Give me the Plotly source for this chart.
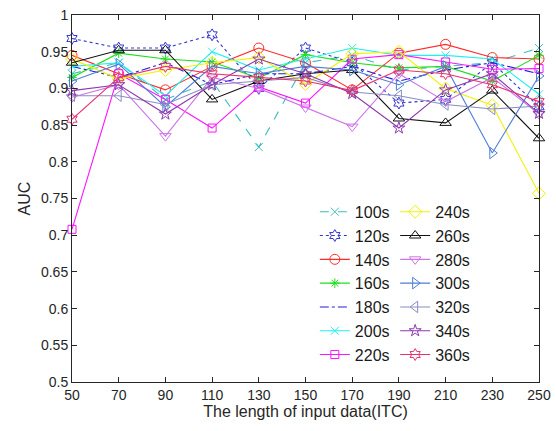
import plotly.graph_objects as go

# Length of input data (ITC) on the x axis
lengths = [50, 70, 90, 110, 130, 150, 170, 190, 210, 230, 250]

# AUC per window size
auc_100s = [0.920, 0.935, 0.885, 0.910, 0.820, 0.935, 0.945, 0.925, 0.930, 0.935, 0.955]
auc_120s = [0.968, 0.955, 0.955, 0.973, 0.900, 0.955, 0.935, 0.880, 0.885, 0.935, 0.875]
auc_140s = [0.945, 0.920, 0.898, 0.930, 0.955, 0.935, 0.898, 0.948, 0.960, 0.942, 0.940]
auc_160s = [0.915, 0.948, 0.940, 0.936, 0.914, 0.946, 0.935, 0.928, 0.930, 0.910, 0.945]
auc_180s = [0.930, 0.915, 0.935, 0.905, 0.920, 0.920, 0.930, 0.910, 0.925, 0.935, 0.920]
auc_200s = [0.930, 0.935, 0.890, 0.950, 0.925, 0.940, 0.955, 0.945, 0.945, 0.940, 0.892]
auc_220s = [0.708, 0.920, 0.885, 0.846, 0.902, 0.880, 0.940, 0.946, 0.936, 0.926, 0.927]
auc_240s = [0.940, 0.913, 0.925, 0.935, 0.942, 0.906, 0.947, 0.950, 0.900, 0.877, 0.757]
auc_260s = [0.935, 0.952, 0.952, 0.885, 0.910, 0.920, 0.925, 0.859, 0.853, 0.897, 0.832]
auc_280s = [0.888, 0.905, 0.835, 0.915, 0.900, 0.874, 0.848, 0.920, 0.882, 0.915, 0.865]
auc_300s = [0.910, 0.933, 0.875, 0.930, 0.920, 0.930, 0.925, 0.905, 0.930, 0.812, 0.917]
auc_320s = [0.890, 0.890, 0.878, 0.905, 0.910, 0.915, 0.895, 0.890, 0.878, 0.872, 0.876]
auc_340s = [0.897, 0.905, 0.865, 0.905, 0.940, 0.920, 0.893, 0.846, 0.898, 0.920, 0.866]
auc_360s = [0.858, 0.915, 0.930, 0.920, 0.915, 0.910, 0.897, 0.925, 0.920, 0.905, 0.882]

y_ticks = [0.5, 0.55, 0.6, 0.65, 0.7, 0.75, 0.8, 0.85, 0.9, 0.95, 1.0]
y_tick_text = ["0.5", "0.55", "0.6", "0.65", "0.7", "0.75", "0.8", "0.85", "0.9", "0.95", "1"]

# name, values, colour, dash, marker symbol, marker size, legend
series = [
    ("100s", auc_100s, "#3DBDBD", "dash", "x-thin-open", 8, "legend"),
    ("120s", auc_120s, "#3535D0", "dot", "hexagram-open", 9, "legend"),
    ("140s", auc_140s, "#FF2B2B", "solid", "circle-open", 10, "legend"),
    ("160s", auc_160s, "#1EE01E", "solid", "asterisk-open", 8, "legend"),
    ("180s", auc_180s, "#1F1FE0", "dashdot", None, 0, "legend"),
    ("200s", auc_200s, "#1FF0F0", "solid", "x-thin-open", 8, "legend"),
    ("220s", auc_220s, "#FF14FF", "solid", "square-open", 8, "legend"),
    ("240s", auc_240s, "#F2F200", "solid", "diamond-open", 10, "legend2"),
    ("260s", auc_260s, "#111111", "solid", "triangle-up-open", 10, "legend2"),
    ("280s", auc_280s, "#CD75E8", "solid", "triangle-down-open", 10, "legend2"),
    ("300s", auc_300s, "#4D7FD9", "solid", "triangle-right-open", 10, "legend2"),
    ("320s", auc_320s, "#8A8CC4", "solid", "triangle-left-open", 10, "legend2"),
    ("340s", auc_340s, "#8C3AAE", "solid", "star-open", 9, "legend2"),
    ("360s", auc_360s, "#E8326F", "solid", "hexagram-open", 9, "legend2"),
]

fig = go.Figure()
for name, vals, color, dash, symbol, msize, leg in series:
    if symbol is None:
        mode = "lines"
        marker = None
    else:
        mode = "lines+markers"
        marker = dict(symbol=symbol, size=msize, color=color, line=dict(width=1, color=color))
    fig.add_trace(go.Scatter(
        x=lengths, y=vals, name=name, mode=mode,
        line=dict(color=color, width=1.1, dash=dash),
        marker=marker, legend=leg, cliponaxis=False,
    ))

axis_common = dict(
    showgrid=False, zeroline=False, showline=True, linecolor="#262626", linewidth=1,
    mirror="ticks", ticks="inside", ticklen=5, tickcolor="#262626", automargin=False,
    tickfont=dict(family="Liberation Sans, Arial, sans-serif", size=14, color="#262626"),
)

legend_common = dict(
    xanchor="left", yanchor="top",
    bgcolor="rgba(0,0,0,0)", borderwidth=0,
    font=dict(size=16, color="#1a1a1a"), tracegroupgap=0,
)

fig.update_layout(
    width=556, height=431,
    margin=dict(l=72, r=17, t=15, b=49),
    paper_bgcolor="white", plot_bgcolor="white",
    font=dict(family="Liberation Sans, Arial, sans-serif", color="#262626"),
    xaxis=dict(
        range=[50, 250], tickvals=lengths, ticktext=[str(v) for v in lengths],
        title=dict(text="The length of input data(ITC)", font=dict(size=16, color="#262626"), standoff=3),
        **axis_common,
    ),
    yaxis=dict(
        range=[0.5, 1.0], tickvals=y_ticks, ticktext=y_tick_text,
        title=dict(text="AUC", font=dict(size=16, color="#262626"), standoff=6),
        **axis_common,
    ),
    legend=dict(x=0.52, y=0.51, **legend_common),
    legend2=dict(x=0.692, y=0.51, **legend_common),
    showlegend=True,
)

fig.write_html("out.html")
